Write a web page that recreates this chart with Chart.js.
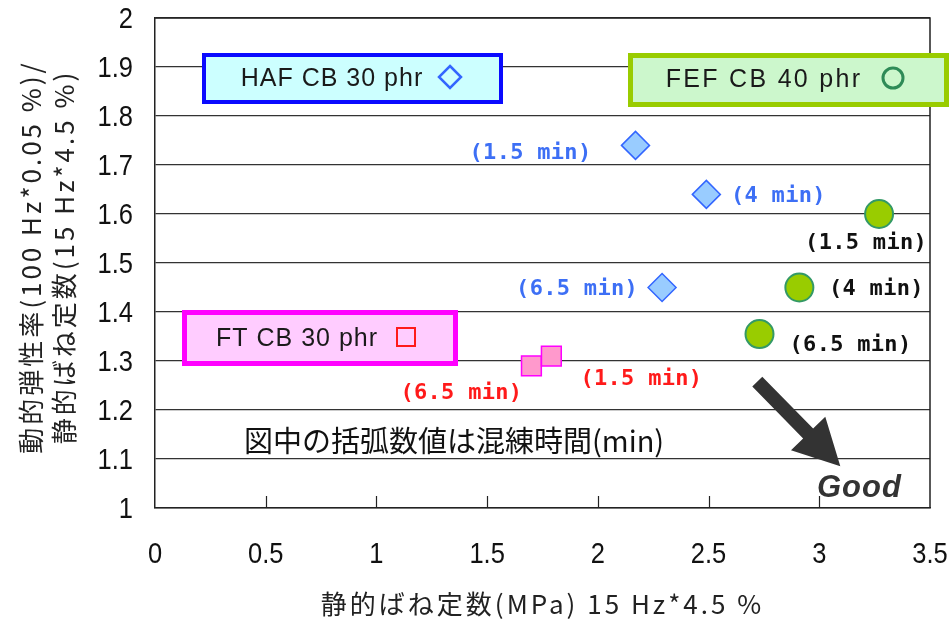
<!DOCTYPE html>
<html>
<head>
<meta charset="utf-8">
<script src="https://cdn.jsdelivr.net/npm/chart.js@4.4.1/dist/chart.umd.min.js"></script>
<style>
  html, body { margin: 0; padding: 0; background: #fff; }
  #wrap { width: 949px; height: 622px; }
</style>
</head>
<body>
<div id="wrap"><canvas id="chart"></canvas></div>
<script>
// values
const hafX = [2.17, 2.49, 2.29];
const hafY = [1.74, 1.64, 1.45];
const hafTimes = ['1.5', '4', '6.5'];

const fefX = [3.27, 2.91, 2.73];
const fefY = [1.60, 1.45, 1.355];
const fefTimes = ['1.5', '4', '6.5'];

const ftX = [1.70, 1.79];
const ftY = [1.29, 1.31];
const ftTimes = ['6.5', '1.5'];

const xMin = 0, xMax = 3.5, xStep = 0.5;
const yMin = 1, yMax = 2, yStep = 0.1;

const yTitle = ['動的弾性率(100 Hz*0.05 %)/', '静的ばね定数(15 Hz*4.5 %)'];
const xTitle = '静的ばね定数(MPa) 15 Hz*4.5 %';
const note = '図中の括弧数値は混練時間(min)';

function pts(xs, ys) {
    return xs.map((x, i) => ({ x: x, y: ys[i] }));
}

// where each "(n min)" label sits relative to its point, in px
const labelOffsets = [
    [[-105, 8], [72, 2], [-85, 2]],
    [[-13, 29], [77, 2], [91, 11]],
    [[-70, 27], [90, 23]]
];
const labelColors = ['#3d6ff5', '#111', '#ff1a1a'];
const labelTimes = [hafTimes, fefTimes, ftTimes];

const sans = "'Liberation Sans', Arial, sans-serif";
const jp = "'Noto Sans CJK JP', 'Noto Sans', sans-serif";

function fmt(v) {
    return String(Math.round(v * 10) / 10);
}

// narrow-looking text: draw a bigger font squeezed sideways
function squeezed(ctx, text, x, y, sx) {
    ctx.save();
    ctx.translate(x, y);
    ctx.scale(sx, 1);
    ctx.fillText(text, 0, 0);
    ctx.restore();
}

const extras = {
    id: 'extras',
    afterDraw(chart) {
        const ctx = chart.ctx;
        const a = chart.chartArea;
        const xs = chart.scales.x, ys = chart.scales.y;
        ctx.save();

        // frame top / right
        ctx.strokeStyle = '#222';
        ctx.lineWidth = 1.5;
        ctx.beginPath();
        ctx.moveTo(a.left, a.top);
        ctx.lineTo(a.right, a.top);
        ctx.lineTo(a.right, a.bottom);
        ctx.stroke();

        // inward x ticks
        ctx.lineWidth = 1.2;
        for (let v = xMin + xStep; v < xMax; v += xStep) {
            const px = Math.round(xs.getPixelForValue(v)) + 0.5;
            ctx.beginPath();
            ctx.moveTo(px, a.bottom);
            ctx.lineTo(px, a.bottom - 12);
            ctx.stroke();
        }

        // tick labels
        ctx.fillStyle = '#111';
        ctx.font = '30px ' + sans;
        ctx.textBaseline = 'middle';
        ctx.textAlign = 'center';
        xs.ticks.forEach((t) => {
            squeezed(ctx, fmt(t.value), xs.getPixelForValue(t.value), 555, 0.85);
        });
        ctx.textAlign = 'right';
        ys.ticks.forEach((t) => {
            squeezed(ctx, fmt(t.value), 133, ys.getPixelForValue(t.value) + 2, 0.85);
        });

        // axis titles
        ctx.fillStyle = '#222';
        ctx.textAlign = 'center';
        ctx.font = '26px ' + jp;
        ctx.letterSpacing = '3px';
        ctx.fillText(xTitle, (a.left + a.right) / 2, 604);
        const cy = (a.top + a.bottom) / 2 - 6;
        [31, 64].forEach((x, i) => {
            ctx.save();
            ctx.translate(x, cy);
            ctx.rotate(-Math.PI / 2);
            ctx.fillText(yTitle[i], 0, 0);
            ctx.restore();
        });
        ctx.letterSpacing = '0px';

        // legend boxes
        function box(x1, y1, x2, y2, fill, stroke, lw) {
            ctx.fillStyle = fill;
            ctx.fillRect(x1, y1, x2 - x1, y2 - y1);
            ctx.strokeStyle = stroke;
            ctx.lineWidth = lw;
            ctx.strokeRect(x1 + lw / 2, y1 + lw / 2, x2 - x1 - lw, y2 - y1 - lw);
        }
        box(202, 53, 503, 104, '#ccffff', '#0a0aff', 4);
        box(628, 53, 949, 107, '#ccf7cc', '#99cc00', 5);
        box(182, 310, 458, 366, '#ffccff', '#ff00ff', 5);

        ctx.fillStyle = '#1a1a1a';
        ctx.font = '25px ' + sans;
        ctx.letterSpacing = '1px';
        ctx.fillText('HAF CB 30 phr', 332, 79);
        ctx.letterSpacing = '2.3px';
        ctx.fillText('FEF CB 40 phr', 764, 80);
        ctx.letterSpacing = '1px';
        ctx.fillText('FT CB 30 phr', 297, 339);
        ctx.letterSpacing = '0px';

        // legend symbols
        ctx.lineWidth = 2.5;
        ctx.strokeStyle = '#3366ff';
        ctx.beginPath();
        ctx.moveTo(450, 66); ctx.lineTo(461, 77); ctx.lineTo(450, 88); ctx.lineTo(439, 77);
        ctx.closePath();
        ctx.stroke();
        ctx.strokeStyle = '#2e8b57';
        ctx.lineWidth = 3;
        ctx.beginPath();
        ctx.arc(893, 78, 10, 0, Math.PI * 2);
        ctx.stroke();
        ctx.strokeStyle = '#ff1a1a';
        ctx.lineWidth = 2;
        ctx.strokeRect(397, 328, 18, 18);

        // "(n min)" labels
        ctx.font = "bold 22px 'DejaVu Sans Mono', monospace";
        ctx.letterSpacing = '0.3px';
        chart.data.datasets.forEach((ds, di) => {
            const meta = chart.getDatasetMeta(di);
            ctx.fillStyle = labelColors[di];
            meta.data.forEach((el, i) => {
                const off = labelOffsets[di][i];
                ctx.fillText('(' + labelTimes[di][i] + ' min)', el.x + off[0], el.y + off[1]);
            });
        });
        ctx.letterSpacing = '0px';

        // note
        ctx.fillStyle = '#111';
        ctx.font = '29px ' + jp;
        ctx.textAlign = 'left';
        ctx.fillText(note, 244, 441);

        // arrow
        const tx = xs.getPixelForValue(2.72), ty = ys.getPixelForValue(1.258);
        const hx = xs.getPixelForValue(3.095), hy = ys.getPixelForValue(1.085);
        const ang = Math.atan2(hy - ty, hx - tx);
        const len = Math.hypot(hx - tx, hy - ty);
        ctx.translate(tx, ty);
        ctx.rotate(ang);
        ctx.fillStyle = '#333';
        ctx.beginPath();
        ctx.moveTo(0, -7);
        ctx.lineTo(len - 46, -7);
        ctx.lineTo(len - 46, -24);
        ctx.lineTo(len, 0);
        ctx.lineTo(len - 46, 24);
        ctx.lineTo(len - 46, 7);
        ctx.lineTo(0, 7);
        ctx.closePath();
        ctx.fill();
        ctx.setTransform(1, 0, 0, 1, 0, 0);

        ctx.fillStyle = '#333';
        ctx.font = 'italic bold 31px ' + sans;
        ctx.letterSpacing = '1px';
        ctx.textAlign = 'left';
        ctx.textBaseline = 'alphabetic';
        ctx.fillText('Good', 817, 497);

        ctx.restore();
    }
};

new Chart(document.getElementById('chart'), {
    type: 'scatter',
    data: {
        datasets: [
            {
                label: 'HAF CB 30 phr',
                data: pts(hafX, hafY),
                pointStyle: 'rectRot',
                pointRadius: 14,
                pointHoverRadius: 14,
                backgroundColor: '#99ccff',
                borderColor: '#3366ff',
                borderWidth: 1.5
            },
            {
                label: 'FEF CB 40 phr',
                data: pts(fefX, fefY),
                pointStyle: 'circle',
                pointRadius: 14,
                pointHoverRadius: 14,
                backgroundColor: '#99cc00',
                borderColor: '#339966',
                borderWidth: 2
            },
            {
                label: 'FT CB 30 phr',
                data: pts(ftX, ftY),
                pointStyle: 'rect',
                pointRadius: 14,
                pointHoverRadius: 14,
                backgroundColor: '#ff99cc',
                borderColor: '#ff00ff',
                borderWidth: 1.5
            }
        ]
    },
    options: {
        responsive: true,
        maintainAspectRatio: false,
        animation: false,
        events: [],
        layout: { padding: { top: 18, right: 19, left: 0, bottom: 0 } },
        plugins: {
            legend: { display: false },
            tooltip: { enabled: false }
        },
        scales: {
            x: {
                type: 'linear',
                min: xMin,
                max: xMax,
                afterFit: (s) => { s.height = 114; s.paddingLeft = 0; s.paddingRight = 0; },
                ticks: { stepSize: xStep, display: false },
                grid: { drawOnChartArea: false, drawTicks: false },
                border: { color: '#222', width: 1.5 }
            },
            y: {
                type: 'linear',
                min: yMin,
                max: yMax,
                afterFit: (s) => { s.width = 155; s.paddingTop = 0; s.paddingBottom = 0; },
                ticks: { stepSize: yStep, display: false },
                grid: { color: '#333', lineWidth: 1.3, drawTicks: false },
                border: { color: '#222', width: 1.5 }
            }
        }
    },
    plugins: [extras]
});
</script>
</body>
</html>
